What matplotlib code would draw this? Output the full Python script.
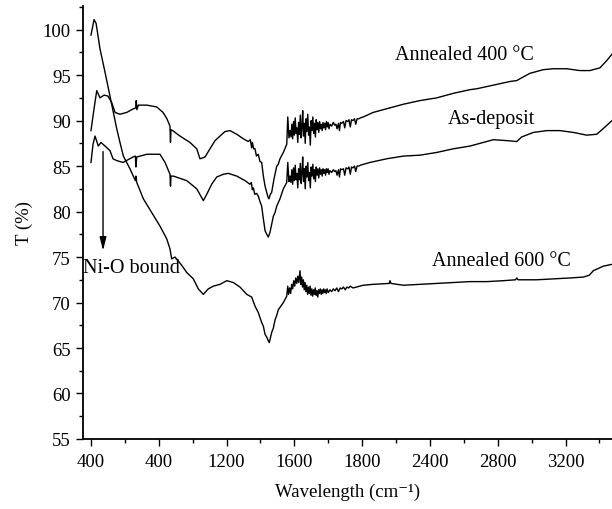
import matplotlib
matplotlib.use("Agg")
import matplotlib.pyplot as plt
from matplotlib.ticker import FixedLocator, MultipleLocator

plt.rcParams['font.family'] = ['Liberation Serif', 'DejaVu Serif']

# --- spectra (wavenumber, T %) ---
a600_x = [400, 418, 430, 453, 483, 512, 532, 552, 571, 591, 630, 662, 665, 670, 709, 758,
          807, 847, 866, 876, 896, 935, 965, 1004, 1033, 1063, 1092, 1122, 1161, 1201,
          1240, 1279, 1319, 1348, 1368, 1387, 1407, 1417, 1427, 1437, 1446, 1452, 1466,
          1476, 1486, 1496, 1505, 1520, 1535, 1555, 1561, 1566, 1572, 1578, 1584, 1590,
          1596, 1602, 1608, 1614, 1620, 1626, 1633, 1638, 1643, 1648, 1653, 1658, 1663,
          1668, 1673, 1678, 1683, 1688, 1693, 1698, 1703, 1708, 1713, 1718, 1723, 1728,
          1733, 1738, 1743, 1748, 1753, 1758, 1763, 1768, 1773, 1778, 1783, 1788, 1793,
          1800, 1810, 1820, 1830, 1840, 1850, 1860, 1870, 1880, 1890, 1900, 1910, 1920,
          1930, 1946, 2006, 2065, 2160, 2164, 2170, 2243, 2341, 2440, 2538, 2636, 2735,
          2833, 2905, 2912, 2920, 3030, 3128, 3226, 3305, 3340, 3364, 3423, 3474]
a600_y = [99.4, 101.1, 100.7, 97.9, 95.3, 92.7, 90.9, 89.1, 87.6, 86.1, 84.7, 83.4, 83.9,
          83.2, 81.4, 79.9, 78.4, 77.0, 75.9, 74.8, 75.0, 74.1, 73.3, 72.6, 71.5, 70.9,
          71.5, 71.8, 72.0, 72.4, 72.2, 71.7, 70.9, 70.6, 69.6, 68.9, 67.8, 67.4, 66.5,
          66.2, 65.8, 65.6, 66.7, 67.2, 68.1, 68.6, 69.2, 69.6, 70.0, 70.7, 71.8, 70.9,
          71.6, 71.0, 72.0, 71.5, 72.4, 71.8, 72.7, 72.1, 72.9, 72.2, 73.5, 72.0, 72.8,
          71.7, 72.5, 71.4, 72.2, 71.2, 71.9, 70.9, 71.7, 71.0, 71.8, 70.8, 71.5, 70.7,
          71.4, 70.9, 71.6, 70.8, 71.3, 70.6, 71.4, 71.0, 71.5, 70.9, 71.4, 71.0, 71.5,
          71.1, 71.4, 71.0, 71.5, 71.1, 71.4, 71.2, 71.5, 71.3, 71.6, 71.2, 71.6, 71.5,
          71.7, 71.4, 71.7, 71.6, 71.8, 71.6, 71.9, 72.0, 72.1, 72.4, 72.1, 71.9, 72.0,
          72.1, 72.2, 72.3, 72.3, 72.4, 72.5, 72.7, 72.5, 72.5, 72.6, 72.7, 72.8, 73.0,
          73.5, 74.0, 74.2]

a400_x = [400, 418, 434, 453, 477, 500, 522, 542, 571, 611, 650, 664, 667, 671, 679, 729,
          788, 825, 848, 866, 869, 872, 882, 925, 984, 1024, 1043, 1073, 1102, 1132, 1161,
          1191, 1220, 1260, 1299, 1328, 1340, 1348, 1352, 1360, 1368, 1376, 1387, 1397,
          1407, 1417, 1427, 1437, 1444, 1450, 1458, 1466, 1480, 1496, 1505, 1515, 1535,
          1555, 1561, 1568, 1574, 1580, 1585, 1590, 1595, 1600, 1605, 1610, 1615, 1620,
          1625, 1630, 1635, 1640, 1645, 1649, 1654, 1659, 1664, 1669, 1674, 1679, 1684,
          1689, 1694, 1699, 1704, 1709, 1714, 1719, 1724, 1729, 1734, 1739, 1744, 1749,
          1754, 1759, 1764, 1769, 1774, 1779, 1784, 1789, 1794, 1799, 1804, 1810, 1820,
          1830, 1838, 1845, 1852, 1860, 1866, 1872, 1880, 1890, 1897, 1905, 1915, 1922,
          1930, 1937, 1945, 1955, 1962, 1970, 1980, 1990, 2006, 2065, 2144, 2243, 2341,
          2440, 2538, 2636, 2676, 2774, 2872, 2912, 2931, 2990, 3069, 3128, 3207, 3285,
          3344, 3403, 3443, 3474]
a400_y = [88.9, 91.3, 93.3, 92.5, 92.8, 92.7, 92.0, 90.9, 90.7, 90.9, 91.3, 91.4, 92.2,
          91.2, 91.7, 91.7, 91.5, 90.9, 90.2, 89.4, 87.6, 89.0, 88.9, 88.3, 87.6, 86.9,
          85.8, 86.0, 86.9, 87.8, 88.3, 88.8, 88.9, 88.5, 88.0, 87.7, 87.9, 87.0, 87.6,
          86.9, 86.9, 86.1, 86.3, 85.5, 85.4, 83.9, 82.8, 82.1, 81.6, 81.4, 81.9, 82.1,
          83.6, 85.0, 85.2, 85.8, 86.5, 87.4, 90.4, 88.1, 88.9, 88.2, 89.6, 88.0, 89.9,
          88.4, 90.3, 88.6, 89.2, 87.6, 89.8, 88.5, 90.6, 88.1, 89.4, 91.1, 88.3, 89.7,
          87.5, 90.2, 88.8, 90.7, 88.4, 89.3, 87.3, 90.0, 88.9, 90.4, 88.6, 89.7, 88.2,
          90.1, 89.0, 89.8, 88.7, 89.9, 89.1, 89.6, 88.9, 89.8, 89.2, 89.7, 89.0, 89.9,
          89.3, 89.8, 89.1, 89.6, 89.4, 89.8, 89.5, 89.6, 89.1, 89.7, 88.9, 89.8, 89.7,
          89.9, 89.2, 90.0, 89.9, 90.1, 89.3, 90.1, 90.0, 90.2, 89.6, 90.2, 90.2, 90.3,
          90.4, 90.9, 91.3, 91.8, 92.2, 92.5, 93.0, 93.4, 93.5, 93.9, 94.3, 94.4, 94.6,
          95.2, 95.6, 95.7, 95.7, 95.5, 95.5, 95.8, 96.6, 97.3]

asd_x = [400, 412, 424, 443, 459, 483, 512, 530, 552, 589, 648, 662, 665, 670, 729, 807,
         837, 866, 869, 872, 886, 965, 1024, 1063, 1083, 1112, 1142, 1181, 1210, 1260,
         1309, 1338, 1346, 1352, 1358, 1366, 1377, 1387, 1397, 1407, 1417, 1427, 1437,
         1446, 1456, 1466, 1476, 1486, 1496, 1515, 1535, 1555, 1561, 1568, 1574, 1580,
         1585, 1590, 1595, 1600, 1605, 1610, 1615, 1620, 1625, 1630, 1635, 1640, 1645,
         1649, 1654, 1659, 1664, 1669, 1674, 1679, 1684, 1689, 1694, 1699, 1704, 1709,
         1714, 1719, 1724, 1729, 1734, 1739, 1744, 1749, 1754, 1759, 1764, 1769, 1774,
         1779, 1784, 1789, 1794, 1799, 1804, 1810, 1820, 1830, 1838, 1845, 1852, 1860,
         1866, 1872, 1880, 1890, 1897, 1905, 1915, 1922, 1930, 1937, 1945, 1955, 1962,
         1970, 1980, 1990, 2046, 2144, 2243, 2341, 2440, 2538, 2636, 2676, 2774, 2853,
         2912, 2941, 3010, 3089, 3167, 3246, 3325, 3384, 3433, 3474]
asd_y = [85.4, 87.4, 88.3, 87.2, 87.6, 87.2, 86.7, 85.8, 85.6, 85.4, 86.0, 86.1, 84.9,
         86.0, 86.3, 86.3, 85.4, 84.1, 82.8, 83.9, 83.9, 83.4, 82.5, 81.2, 81.9, 83.0,
         83.8, 84.1, 84.2, 83.9, 83.4, 83.0, 83.2, 82.4, 82.6, 81.9, 82.0, 81.7, 81.1,
         80.6, 79.2, 77.9, 77.5, 77.2, 77.7, 78.6, 79.5, 79.9, 80.6, 81.4, 82.5, 83.2,
         85.4, 83.3, 83.9, 83.2, 84.6, 83.0, 84.8, 83.4, 85.1, 83.5, 84.2, 82.6, 84.7,
         83.5, 85.3, 83.1, 84.4, 86.0, 83.3, 84.7, 82.5, 85.0, 83.8, 85.4, 83.4, 84.3,
         82.6, 84.9, 83.9, 85.2, 83.6, 84.6, 83.3, 84.9, 84.0, 84.7, 83.7, 84.8, 84.1,
         84.6, 83.9, 84.7, 84.2, 84.6, 84.0, 84.7, 84.3, 84.7, 84.1, 84.5, 84.3, 84.6,
         84.4, 84.5, 84.0, 84.6, 83.8, 84.7, 84.6, 84.7, 84.0, 84.8, 84.7, 84.9, 84.1,
         84.9, 84.8, 85.0, 84.4, 85.0, 85.0, 85.1, 85.4, 85.8, 86.1, 86.2, 86.5, 86.9,
         87.2, 87.4, 87.9, 87.8, 87.7, 88.2, 88.7, 88.9, 88.9, 88.7, 88.4, 88.5, 89.3,
         90.0]

tick_pos = [400, 800, 1200, 1600, 2000, 2400, 2800, 3200]
tick_lbl = ["400", "400", "1200", "1600", "1800", "2400", "2800", "3200"]

fig = plt.figure(figsize=(6.12, 5.1), dpi=100)
ax = fig.add_axes([0.1351, 0.1373, 0.8649, 0.849])

for xs, ys in [(a600_x, a600_y), (a400_x, a400_y), (asd_x, asd_y)]:
    ax.plot(xs, ys, color='black', lw=1.0)

ax.set_xlim(351, 3474)
ax.set_ylim(55, 102.6)
ax.xaxis.set_major_locator(FixedLocator(tick_pos))
ax.set_xticklabels(tick_lbl)
ax.xaxis.set_minor_locator(MultipleLocator(200))
ax.yaxis.set_major_locator(MultipleLocator(5))
ax.yaxis.set_minor_locator(MultipleLocator(2.5))

for s in ['top', 'right']:
    ax.spines[s].set_visible(False)
for s in ['left', 'bottom']:
    ax.spines[s].set_linewidth(1.3)

ax.tick_params(which='major', direction='out', length=5, width=1, labelsize=13.5)
ax.tick_params(axis='x', which='major', pad=5)
ax.tick_params(which='minor', direction='out', length=3, width=1)

ax.set_xlabel('Wavelength (cm⁻¹)', fontsize=13.5, labelpad=9)
ax.set_ylabel('T (%)', fontsize=13.5, labelpad=7)

ax.text(2194, 97.3, 'Annealed 400 °C', fontsize=14.5, ha='left', va='center')
ax.text(2507, 90.2, 'As-deposit', fontsize=14.5, ha='left', va='center')
ax.text(2410, 74.6, 'Annealed 600 °C', fontsize=14.5, ha='left', va='center')
ax.text(355, 73.9, 'Ni-O bound', fontsize=14.5, ha='left', va='center')
ax.annotate('', xy=(471, 75.7), xytext=(471, 86.6),
            arrowprops=dict(arrowstyle='-|>,head_width=0.2,head_length=0.8',
                            color='black', lw=1, mutation_scale=10,
                            shrinkA=0, shrinkB=0))

fig.savefig('out.png', dpi=100)
